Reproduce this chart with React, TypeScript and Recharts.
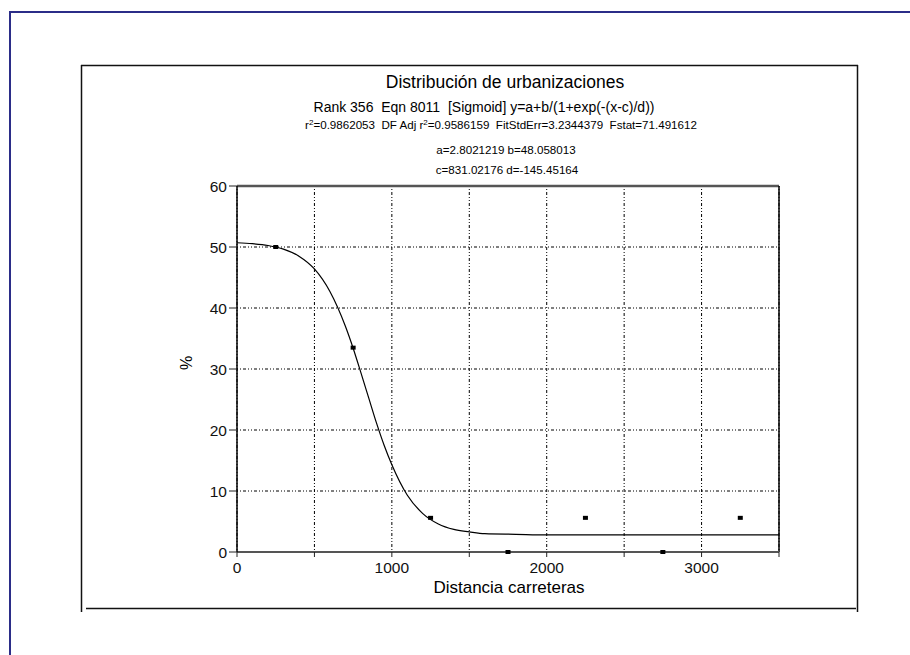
import React from 'react';
import {
  ComposedChart,
  Line,
  Scatter,
  XAxis,
  YAxis,
  CartesianGrid,
  ReferenceLine,
} from 'recharts';

// ============================================================================
// --- DATOS ---
// ============================================================================

// curva ajustada
const curveX = [0, 100, 200, 300, 400, 500, 600, 700, 750, 800, 850, 900, 950, 1000, 1100, 1200, 1300, 1400, 1500, 1600, 1800, 2000, 2500, 3000, 3500];
const curveY = [50.7, 50.55, 50.25, 49.65, 48.5, 46.4, 42.7, 37.0, 33.4, 29.4, 25.3, 21.2, 17.5, 14.3, 9.3, 6.3, 4.6, 3.7, 3.3, 3.0, 2.9, 2.8, 2.8, 2.8, 2.8];

// puntos observados
const pointX = [250, 750, 1250, 1750, 2250, 2750, 3250];
const pointY = [50, 33.5, 5.6, 0, 5.6, 0, 5.6];

const xTicks = [0, 500, 1000, 1500, 2000, 2500, 3000, 3500];
const yTicks = [0, 10, 20, 30, 40, 50, 60];

const titleLines = {
  title: 'Distribución de urbanizaciones',
  rank: 'Rank 356  Eqn 8011  [Sigmoid] y=a+b/(1+exp(-(x-c)/d))',
  ab: 'a=2.8021219 b=48.058013',
  cd: 'c=831.02176 d=-145.45164',
};

const curve = curveX.map((x, i) => ({ x, y: curveY[i] }));
const points = pointX.map((x, i) => ({ x, y: pointY[i] }));

const FONT = '"Liberation Sans", Arial, sans-serif';
const W = 910;
const H = 655;

// ============================================================================
// --- HELPERS ---
// ============================================================================

const SquareDot: React.FC<any> = ({ cx, cy }) => (
  <rect x={cx - 2.5} y={cy - 2} width={5} height={4} fill="#000" />
);

const xTickLabel = (v: number) => (v % 1000 === 0 ? String(v) : '');

// marco y textos del encabezado
const Overlay: React.FC = () => (
  <svg
    width={W}
    height={H}
    style={{ position: 'absolute', left: 0, top: 0, pointerEvents: 'none' }}
    fontFamily={FONT}
  >
    {/* marco exterior azul */}
    <line x1={10} y1={11} x2={10} y2={H} stroke="#2b2d88" strokeWidth={2} />
    <line x1={9} y1={12} x2={W} y2={12} stroke="#2b2d88" strokeWidth={2} />

    {/* recuadro interior */}
    <line x1={81.5} y1={65} x2={81.5} y2={612} stroke="#111" strokeWidth={1.5} />
    <line x1={81} y1={65.5} x2={858} y2={65.5} stroke="#111" strokeWidth={1.5} />
    <line x1={857.5} y1={65} x2={857.5} y2={612} stroke="#111" strokeWidth={1.5} />
    <line x1={86} y1={608.5} x2={856} y2={608.5} stroke="#111" strokeWidth={1.5} />

    <text x={505} y={88} textAnchor="middle" fontSize={17.5} fill="#000">
      {titleLines.title}
    </text>
    <text x={484} y={111.5} textAnchor="middle" fontSize={14} fill="#000" style={{ whiteSpace: 'pre' }}>
      {titleLines.rank}
    </text>
    <text x={501} y={129} textAnchor="middle" fontSize={11.6} fill="#000" style={{ whiteSpace: 'pre' }}>
      r<tspan fontSize={8} dy={-4}>2</tspan>
      <tspan dy={4}>=0.9862053  DF Adj r</tspan>
      <tspan fontSize={8} dy={-4}>2</tspan>
      <tspan dy={4}>=0.9586159  FitStdErr=3.2344379  Fstat=71.491612</tspan>
    </text>
    <text x={506} y={154} textAnchor="middle" fontSize={11.6} fill="#000">
      {titleLines.ab}
    </text>
    <text x={507} y={174} textAnchor="middle" fontSize={11.6} fill="#000">
      {titleLines.cd}
    </text>

    {/* títulos de ejes */}
    <text x={509} y={593} textAnchor="middle" fontSize={17} fill="#000">
      Distancia carreteras
    </text>
    <text
      x={0}
      y={0}
      textAnchor="middle"
      fontSize={16}
      fill="#000"
      transform="translate(192 363) rotate(-90)"
    >
      %
    </text>
  </svg>
);

// ============================================================================
// --- COMPONENTE PRINCIPAL ---
// ============================================================================

const App: React.FC = () => (
  <div
    style={{
      position: 'absolute',
      left: 0,
      top: 0,
      width: W,
      height: H,
      background: '#fff',
      fontFamily: FONT,
    }}
  >
    <ComposedChart
      width={W}
      height={H}
      margin={{ top: 186, right: 131, bottom: 73, left: 177 }}
    >
      <CartesianGrid
        stroke="#000"
        strokeDasharray="1 2 1 2 3 2"
        verticalValues={xTicks}
        horizontalValues={yTicks}
      />
      <XAxis
        dataKey="x"
        type="number"
        domain={[0, 3500]}
        ticks={xTicks}
        tickFormatter={xTickLabel}
        height={30}
        tickSize={5}
        tickMargin={5}
        interval={0}
        stroke="#555"
        axisLine={{ stroke: '#555', strokeWidth: 2 }}
        tickLine={{ stroke: '#222' }}
        tick={{ fill: '#111', fontSize: 15.5, fontFamily: FONT }}
      />
      <YAxis
        dataKey="y"
        type="number"
        domain={[0, 60]}
        ticks={yTicks}
        width={60}
        tickSize={8}
        tickMargin={2}
        interval={0}
        axisLine={{ stroke: '#000', strokeWidth: 1.5 }}
        tickLine={{ stroke: '#222' }}
        tick={{ fill: '#111', fontSize: 15.5, fontFamily: FONT }}
      />
      <ReferenceLine y={60} stroke="#555" strokeWidth={2.5} />
      <ReferenceLine x={3500} stroke="#000" strokeWidth={1.5} />
      <Line
        data={curve}
        dataKey="y"
        type="monotone"
        stroke="#000"
        strokeWidth={1.2}
        dot={false}
        activeDot={false}
        isAnimationActive={false}
      />
      <Scatter
        data={points}
        dataKey="y"
        fill="#000"
        shape={<SquareDot />}
        isAnimationActive={false}
      />
    </ComposedChart>
    <Overlay />
  </div>
);

export default App;
